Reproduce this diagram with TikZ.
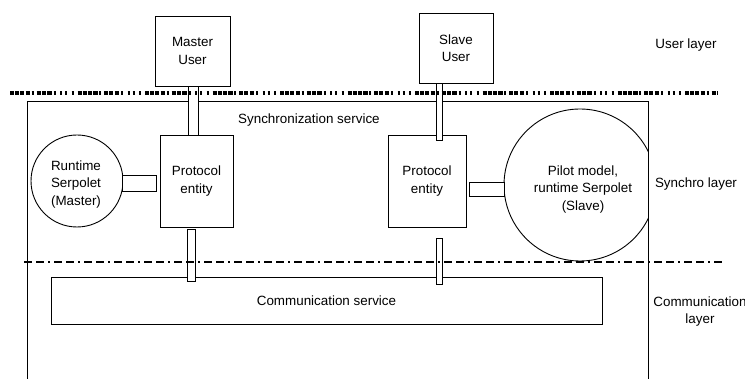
\documentclass[tikz,border=0pt]{standalone}
\usepackage{fontspec}
\setmainfont{Liberation Sans}
\newcommand{\lblfont}{\fontsize{13.4}{17.5}\selectfont}
\begin{document}
\begin{tikzpicture}[x=1pt,y=-1pt,
  blk/.style={draw, line width=0.9pt, inner sep=0pt, align=center, font=\lblfont},
  barbox/.style={draw, fill=white, line width=0.8pt, inner sep=0pt},
  txt/.style={inner sep=0pt, align=center, font=\lblfont},
  userline/.style={line width=4pt, dash pattern=on 4pt off 1.2pt on 4pt off 1.2pt on 4pt off 1.2pt on 4.5pt off 1.5pt on 2pt off 3pt on 4pt off 1.2pt on 4pt off 1.2pt on 4.5pt off 2pt on 2pt off 4.5pt on 2pt off 3pt on 2pt off 4.5pt on 2pt off 4pt},
  layerline/.style={line width=1.4pt, dash pattern=on 8pt off 4pt on 8pt off 4pt on 2pt off 4pt}
]
\useasboundingbox (0,0) rectangle (745,379);
\fill[white] (0,0) rectangle (745,379);

% outer synchronization service container
\coordinate (obl) at (27,379);
\coordinate (otl) at (27,102);
\coordinate (otr) at (648,102);
\coordinate (obr) at (648,379);
\draw[line width=1pt] (obl) -- (otl) -- (otr) -- (obr);

% user boxes
\node[blk, minimum width=75pt, minimum height=70pt] (mu) at (192.5,51) {Master\\User};
\node[blk, minimum width=74pt, minimum height=70pt] (su) at (456,48) {Slave\\User};

% protocol entities
\node[blk, minimum width=73pt, minimum height=92pt] (mp) at (196.5,181) {Protocol\\entity};
\node[blk, minimum width=78pt, minimum height=92pt] (sp) at (427,181) {Protocol\\entity};

% runtime serpolet master
\node[draw, circle, line width=0.9pt, minimum size=92pt, inner sep=0pt] (mc) at (77,181) {};
\node[txt] (mct) at (76,184.5) {Runtime\\Serpolet\\(Master)};

% pilot model slave (clipped by container)
\begin{scope}
\clip (27,102) rectangle (648,262.5);
\node[draw, circle, line width=0.9pt, minimum size=152pt, inner sep=0pt] (sc) at (580,185) {};
\end{scope}
\node[txt] (sct) at (583,189.5) {Pilot model,\\runtime Serpolet\\(Slave)};

% communication service
\node[blk, minimum width=551pt, minimum height=47pt] (cs) at (326.5,300.5) {Communication service};

% connector bars
\node[barbox, minimum width=10pt, minimum height=49pt] (mub) at (193,110.5) {};
\node[barbox, minimum width=6pt, minimum height=57pt] (sub) at (439,111.5) {};
\node[barbox, minimum width=34pt, minimum height=16pt] (mcb) at (139,183) {};
\node[barbox, minimum width=35pt, minimum height=14pt] (scb) at (486.5,189) {};
\node[barbox, minimum width=8pt, minimum height=52pt] (mlb) at (191,255) {};
\node[barbox, minimum width=6pt, minimum height=46pt] (slb) at (439,261) {};

% layer separators
\coordinate (ul1) at (10,93);
\coordinate (ul2) at (718,93);
\draw[userline] (ul1) -- (ul2);
\coordinate (ll1) at (24,262);
\coordinate (ll2) at (724,262);
\draw[layerline] (ll1) -- (ll2);

% labels
\node[txt, anchor=west] (syn) at (238,120) {Synchronization service};
\node[txt] (ul) at (686,45) {User layer};
\node[txt] (sl) at (696,184) {Synchro layer};
\node[txt] (cl) at (700,311.5) {Communication\\layer};
\end{tikzpicture}
\end{document}
